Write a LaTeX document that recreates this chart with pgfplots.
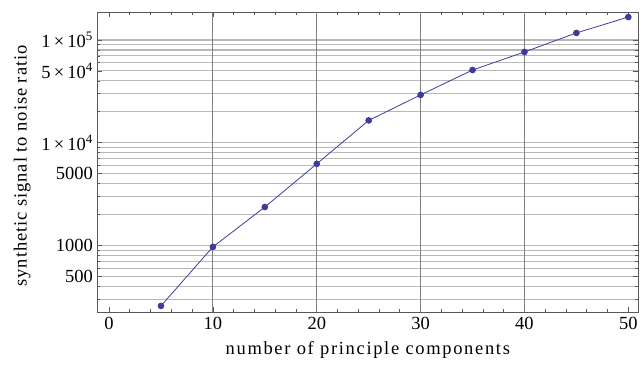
\documentclass[border=0pt]{standalone}
\usepackage{pgfplots}
\pgfplotsset{compat=1.18}
\usepackage{fontspec}
\setmainfont{Liberation Serif}
\newfontfamily\xlabelfont[LetterSpace=9]{Liberation Serif}
\newfontfamily\ylabelfont[LetterSpace=5]{Liberation Serif}
\definecolor{mblue}{rgb}{0.24,0.24,0.6}
\definecolor{framec}{gray}{0.35}
\begin{document}
\begin{tikzpicture}
\begin{axis}[
  scale only axis, width=541bp, height=300bp,
  xmin=-1.13, xmax=50.96,
  ymode=log, ymin=226, ymax=187000,
  log basis y=10,
  axis line style={framec, line width=0.8bp},
  tick style={framec, line width=0.7bp},
  tick align=inside,
  major tick length=5bp, minor tick length=3bp,
  xtick={0,10,20,30,40,50},
  minor xtick={2,4,6,8,12,14,16,18,22,24,26,28,32,34,36,38,42,44,46,48},
  ytick={500,1000,5000,10000,50000,100000},
  yticklabels={500,1000,5000,{1\,×\,10\textsuperscript{4}},{5\,×\,10\textsuperscript{4}},{1\,×\,10\textsuperscript{5}}},
  minor ytick={300,400,600,700,800,900,2000,3000,4000,6000,7000,8000,9000,20000,30000,40000,60000,70000,80000,90000},
  ymajorgrids, yminorgrids,
  major grid style={black!28, line width=1.2bp},
  minor grid style={black!28, line width=1.2bp},
  extra x ticks={10,20,30,40},
  extra x tick labels={},
  extra x tick style={xmajorgrids=true, major tick length=0pt, major grid style={black!50, line width=0.8bp}},
  /pgf/number format/assume math mode=true,
  tick label style={font=\fontsize{18.5bp}{21bp}\selectfont},
  xticklabel style={yshift=-2bp},
  yticklabel style={xshift=-1bp},
  xlabel={number of principle components},
  ylabel={synthetic signal to noise ratio},
  x label style={font=\fontsize{18.5bp}{21bp}\selectfont\xlabelfont, at={(axis description cs:0.5,-0.1267)}, anchor=center},
  y label style={font=\fontsize{18.5bp}{21bp}\selectfont\ylabelfont, at={(axis description cs:-0.1386,0.487)}, anchor=center},
]
\addplot[mblue, line width=0.8bp, mark=*, mark size=2.9bp, mark options={fill=mblue, draw=mblue}] coordinates {
(5,259) (10,971) (15,2370) (20,6240) (25,16500) (30,29200) (35,51000) (40,76400) (45,117000) (50,167000)
};
\end{axis}
\pgfresetboundingbox
\path (-97.3bp,-53bp) rectangle (546.7bp,312bp);
\end{tikzpicture}
\end{document}
